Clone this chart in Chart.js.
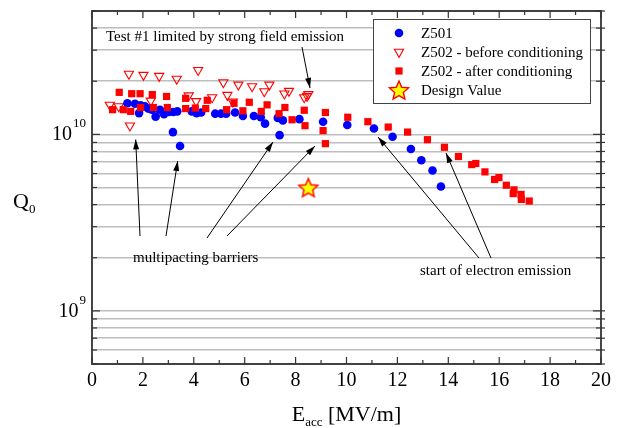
<!DOCTYPE html>
<html>
<head>
<meta charset="utf-8">
<script src="https://cdn.jsdelivr.net/npm/chart.js"></script>
<style>
html, body { margin: 0; padding: 0; background: #fff; }
#wrap { width: 624px; height: 428px; }
</style>
</head>
<body>
<div id="wrap"><canvas id="c" width="624" height="428"></canvas></div>
<script>
// Z501 (Eacc in MV/m, Q0 in units of 1e10)
const z501X = [1.39, 1.69, 1.85, 1.91, 2.08, 2.21, 2.35, 2.50, 2.67, 2.83, 3.02, 3.18, 3.19, 3.35, 3.46, 3.92, 4.11, 4.29, 4.84, 5.07, 5.27, 5.62, 5.93, 6.36, 6.63, 6.80, 7.30, 7.37, 7.50, 8.15, 9.08, 10.03, 11.08, 11.81, 12.53, 12.94, 13.38, 13.71];
const z501Y = [1.50, 1.49, 1.32, 1.46, 1.44, 1.40, 1.38, 1.26, 1.38, 1.30, 1.34, 1.03, 1.34, 1.35, 0.86, 1.35, 1.32, 1.33, 1.31, 1.31, 1.31, 1.33, 1.27, 1.27, 1.25, 1.15, 1.24, 0.99, 1.20, 1.22, 1.18, 1.13, 1.08, 0.97, 0.826, 0.713, 0.624, 0.507];

// Z502 before conditioning
const z502bX = [0.70, 1.05, 1.45, 1.49, 2.02, 2.31, 2.64, 2.63, 3.33, 3.80, 4.09, 4.17, 4.72, 5.16, 5.32, 5.53, 5.75, 6.29, 6.77, 6.97, 7.56, 7.74, 8.34, 8.45, 8.50];
const z502bY = [1.47, 1.44, 2.20, 1.12, 2.17, 1.55, 2.14, 1.35, 2.06, 1.66, 1.54, 2.31, 1.62, 1.97, 1.67, 1.53, 1.91, 1.87, 1.75, 1.91, 1.70, 1.76, 1.62, 1.65, 1.69];

// Z502 after conditioning
const z502aX = [0.81, 1.07, 1.23, 1.52, 1.56, 1.89, 1.91, 2.37, 2.41, 2.93, 2.96, 3.68, 3.68, 4.06, 4.47, 4.53, 5.29, 5.58, 5.93, 6.18, 6.65, 6.88, 7.35, 7.58, 7.86, 8.34, 8.37, 9.08, 9.17, 9.17, 10.05, 10.84, 11.64, 12.40, 13.18, 13.85, 14.40, 14.92, 15.08, 15.44, 15.82, 15.99, 16.28, 16.55, 16.58, 16.86, 16.87, 17.18];
const z502aY = [1.38, 1.73, 1.38, 1.35, 1.70, 1.70, 1.42, 1.68, 1.42, 1.64, 1.42, 1.60, 1.40, 1.41, 1.40, 1.56, 1.38, 1.50, 1.36, 1.52, 1.35, 1.47, 1.31, 1.42, 1.21, 1.37, 1.12, 1.05, 1.33, 0.886, 1.25, 1.18, 1.10, 1.03, 0.933, 0.845, 0.749, 0.674, 0.684, 0.613, 0.555, 0.569, 0.515, 0.462, 0.485, 0.457, 0.428, 0.419];

// design value
const designX = [8.5];
const designY = [0.5];

const xTicks = [0,1,2,3,4,5,6,7,8,9,10,11,12,13,14,15,16,17,18,19,20];
const yTicks = [5e8,6e8,7e8,8e8,9e8,1e9,2e9,3e9,4e9,5e9,6e9,7e9,8e9,9e9,1e10,2e10,3e10,4e10,5e10];
const yLabelVals = [1e9, 1e10];
const yLabelExp = ['9', '10'];

const legendNames = ['Z501', 'Z502 - before conditioning', 'Z502 - after conditioning', 'Design Value'];

const FONT = '"Liberation Serif", "Times New Roman", serif';

function pts(xs, ys) {
	return xs.map(function (x, i) { return { x: x, y: ys[i] * 1e10 }; });
}

function makeStar(r) {
	var cv = document.createElement('canvas');
	var s = Math.ceil(2 * r + 4);
	cv.width = s; cv.height = s;
	var g = cv.getContext('2d');
	g.beginPath();
	for (var i = 0; i < 10; i++) {
		var a = -Math.PI / 2 + i * Math.PI / 5;
		var rr = (i % 2) ? r * 0.46 : r;
		g.lineTo(s / 2 + rr * Math.cos(a), s / 2 + rr * Math.sin(a) + 1);
	}
	g.closePath();
	g.fillStyle = '#ffff00';
	g.fill();
	g.strokeStyle = '#ff0000';
	g.lineWidth = 1.4;
	g.stroke();
	return cv;
}
var starImg = makeStar(10);

function line(ctx, x1, y1, x2, y2) {
	ctx.beginPath(); ctx.moveTo(x1, y1); ctx.lineTo(x2, y2); ctx.stroke();
}

function arrow(ctx, x1, y1, x2, y2) {
	line(ctx, x1, y1, x2, y2);
	var a = Math.atan2(y2 - y1, x2 - x1);
	var L = 10, W = 3;
	ctx.beginPath();
	ctx.moveTo(x2, y2);
	ctx.lineTo(x2 - L * Math.cos(a) + W * Math.sin(a), y2 - L * Math.sin(a) - W * Math.cos(a));
	ctx.lineTo(x2 - L * Math.cos(a) - W * Math.sin(a), y2 - L * Math.sin(a) + W * Math.cos(a));
	ctx.closePath();
	ctx.fill();
}

function marker(ctx, kind, x, y) {
	ctx.beginPath();
	if (kind === 0) {
		ctx.fillStyle = '#0000ff';
		ctx.arc(x, y, 4.3, 0, Math.PI * 2);
		ctx.fill();
	} else if (kind === 1) {
		ctx.moveTo(x - 4.6, y - 2.7); ctx.lineTo(x + 4.6, y - 2.7); ctx.lineTo(x, y + 5.3); ctx.closePath();
		ctx.fillStyle = '#fff'; ctx.fill();
		ctx.strokeStyle = '#ff0000'; ctx.lineWidth = 1.1; ctx.stroke();
	} else if (kind === 2) {
		ctx.fillStyle = '#ff0000';
		ctx.fillRect(x - 3.6, y - 3.6, 7.2, 7.2);
	} else {
		ctx.drawImage(starImg, x - starImg.width / 2, y - starImg.height / 2);
	}
}

const frame = {
	id: 'frame',
	afterDraw: function (chart) {
		var ctx = chart.ctx, a = chart.chartArea, x = chart.scales.x, y = chart.scales.y;
		ctx.save();
		ctx.strokeStyle = '#333';
		ctx.lineWidth = 1.2;
		xTicks.forEach(function (v) {
			var px = x.getPixelForValue(v);
			var len = v % 2 === 0 ? 7 : 4;
			line(ctx, px, a.bottom, px, a.bottom - len);
			line(ctx, px, a.top, px, a.top + len);
		});
		yTicks.forEach(function (v) {
			var py = y.getPixelForValue(v);
			var len = yLabelVals.indexOf(v) >= 0 ? 8 : 5;
			line(ctx, a.left, py, a.left + len, py);
			line(ctx, a.right + 4, py, a.right - len, py);
		});
		ctx.lineWidth = 1.8;
		ctx.strokeRect(a.left, a.top, a.right - a.left, a.bottom - a.top);

		// y tick labels
		ctx.fillStyle = '#000';
		ctx.textBaseline = 'alphabetic';
		yLabelVals.forEach(function (v, i) {
			var py = y.getPixelForValue(v);
			ctx.font = '13px ' + FONT;
			var ew = ctx.measureText(yLabelExp[i]).width;
			ctx.textAlign = 'left';
			ctx.fillText(yLabelExp[i], 86 - ew, py - 7);
			ctx.font = '20px ' + FONT;
			ctx.textAlign = 'right';
			ctx.fillText('10', 86 - ew - 1, py + 6);
		});

		// axis titles
		ctx.textAlign = 'left';
		ctx.font = '22px ' + FONT;
		ctx.fillText('Q', 13, 208);
		ctx.font = '13px ' + FONT;
		ctx.fillText('0', 29, 213);

		ctx.font = '22px ' + FONT;
		var wE = ctx.measureText('E').width;
		var wR = ctx.measureText(' [MV/m]').width;
		ctx.font = '13px ' + FONT;
		var wS = ctx.measureText('acc').width;
		var x0 = (a.left + a.right) / 2 - (wE + wS + wR) / 2;
		ctx.font = '22px ' + FONT;
		ctx.fillText('E', x0, 421);
		ctx.fillText(' [MV/m]', x0 + wE + wS, 421);
		ctx.font = '13px ' + FONT;
		ctx.fillText('acc', x0 + wE, 426);

		// annotations
		ctx.font = '15px ' + FONT;
		ctx.fillText('Test #1 limited by strong field emission', 106, 41);
		ctx.fillText('multipacting barriers', 133, 262);
		ctx.fillText('start of electron emission', 420, 275);
		ctx.strokeStyle = '#000';
		ctx.fillStyle = '#000';
		ctx.lineWidth = 1;
		arrow(ctx, 302, 47, 310, 88);
		arrow(ctx, 140, 236, 135.7, 139.5);
		arrow(ctx, 166, 236, 177.7, 161);
		arrow(ctx, 207, 238, 273, 142);
		arrow(ctx, 227, 236, 315, 146);
		arrow(ctx, 479, 258, 378, 137);
		arrow(ctx, 491, 258, 446, 153);

		// legend
		ctx.fillStyle = '#fff';
		ctx.fillRect(373, 19, 218, 84);
		ctx.strokeStyle = '#444';
		ctx.lineWidth = 1;
		ctx.strokeRect(373.5, 19.5, 217, 84);
		legendNames.forEach(function (n, i) {
			var ly = 33 + i * 19;
			marker(ctx, i, 399, ly);
			ctx.fillStyle = '#000';
			ctx.font = '15px ' + FONT;
			ctx.textAlign = 'left';
			ctx.textBaseline = 'middle';
			ctx.fillText(n, 421, ly + 1);
		});
		ctx.restore();
	}
};

new Chart(document.getElementById('c'), {
	type: 'scatter',
	data: {
		datasets: [{
			label: legendNames[0],
			data: pts(z501X, z501Y),
			pointStyle: 'circle',
			pointRadius: 4.3,
			backgroundColor: '#0000ff',
			borderColor: '#0000ff',
			borderWidth: 0,
			order: 2
		}, {
			label: legendNames[1],
			data: pts(z502bX, z502bY),
			pointStyle: 'triangle',
			rotation: 180,
			pointRadius: 5.3,
			backgroundColor: 'rgba(255,255,255,0)',
			borderColor: '#ff0000',
			borderWidth: 1.1,
			order: 3
		}, {
			label: legendNames[2],
			data: pts(z502aX, z502aY),
			pointStyle: 'rect',
			pointRadius: 5.1,
			backgroundColor: '#ff0000',
			borderColor: '#ff0000',
			borderWidth: 0,
			order: 1
		}, {
			label: legendNames[3],
			data: pts(designX, designY),
			pointStyle: starImg,
			pointRadius: 10,
			order: 0
		}]
	},
	options: {
		responsive: false,
		animation: false,
		events: [],
		layout: { padding: { top: 9, right: 23, left: 0, bottom: 0 } },
		plugins: { legend: { display: false }, tooltip: { enabled: false } },
		scales: {
			x: {
				type: 'linear',
				min: 0,
				max: 20,
				afterBuildTicks: function (s) { s.ticks = xTicks.map(function (v) { return { value: v }; }); },
				afterFit: function (s) { s.height = 64; },
				ticks: {
					autoSkip: false,
					maxRotation: 0,
					padding: 5,
					color: '#000',
					font: { family: FONT, size: 20 },
					callback: function (v) { return v % 2 === 0 ? String(v) : ''; }
				},
				grid: { display: false, drawTicks: false },
				border: { display: false }
			},
			y: {
				type: 'logarithmic',
				min: 5e8,
				max: 5e10,
				afterBuildTicks: function (s) { s.ticks = yTicks.map(function (v) { return { value: v }; }); },
				afterFit: function (s) { s.width = 92; },
				ticks: { display: false },
				grid: { color: '#bdbdbd', lineWidth: 1.5, drawTicks: false },
				border: { display: false }
			}
		}
	},
	plugins: [frame]
});
</script>
</body>
</html>
